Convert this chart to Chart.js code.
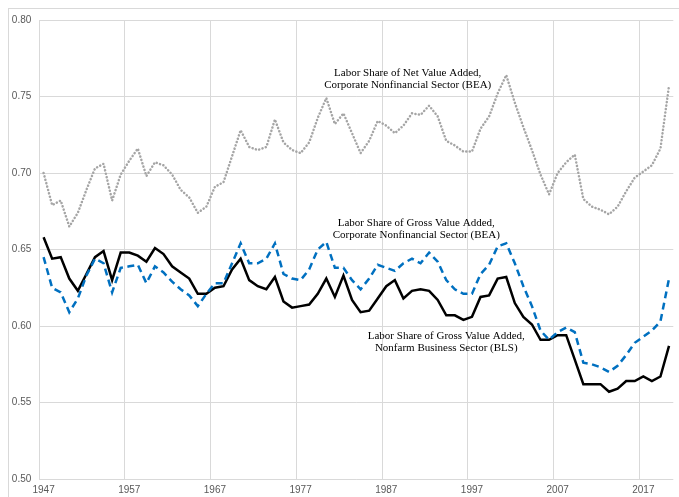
<!DOCTYPE html>
<html>
<head>
<meta charset="utf-8">
<script src="https://cdn.jsdelivr.net/npm/chart.js@4"></script>
<style>
  html, body { margin: 0; padding: 0; background: #fff; }
  #wrap { position: relative; width: 679px; height: 497px; overflow: hidden; }
  #frame { position: absolute; left: 8px; top: 8px; width: 700px; height: 520px;
           border-left: 1px solid #d9d9d9; border-top: 1px solid #d9d9d9; }
  canvas { position: absolute; left: 0; top: 0; }
</style>
</head>
<body>
<div id="wrap">
  <div id="frame"></div>
  <canvas id="chart" width="679" height="497"></canvas>
</div>
<script>
// years 1947-2020, one category each
const years = [
  "1947", "1948", "1949", "1950", "1951", "1952", "1953", "1954", "1955", "1956",
  "1957", "1958", "1959", "1960", "1961", "1962", "1963", "1964", "1965", "1966",
  "1967", "1968", "1969", "1970", "1971", "1972", "1973", "1974", "1975", "1976",
  "1977", "1978", "1979", "1980", "1981", "1982", "1983", "1984", "1985", "1986",
  "1987", "1988", "1989", "1990", "1991", "1992", "1993", "1994", "1995", "1996",
  "1997", "1998", "1999", "2000", "2001", "2002", "2003", "2004", "2005", "2006",
  "2007", "2008", "2009", "2010", "2011", "2012", "2013", "2014", "2015", "2016",
  "2017", "2018", "2019", "2020",
];

const yearTicks = ["1947", "1957", "1967", "1977", "1987", "1997", "2007", "2017"];
const valueTicks = [0.5, 0.55, 0.6, 0.65, 0.7, 0.75, 0.8];

// labor share of net value added, corporate nonfinancial (BEA)
const netCorp = [
  0.700, 0.679, 0.682, 0.665, 0.674, 0.689, 0.703, 0.706, 0.682, 0.699,
  0.708, 0.716, 0.698, 0.707, 0.705, 0.699, 0.689, 0.684, 0.674, 0.678,
  0.691, 0.694, 0.711, 0.728, 0.717, 0.715, 0.717, 0.735, 0.720, 0.715,
  0.713, 0.720, 0.736, 0.749, 0.732, 0.739, 0.726, 0.713, 0.721, 0.734,
  0.731, 0.726, 0.731, 0.739, 0.738, 0.744, 0.737, 0.721, 0.718, 0.714,
  0.714, 0.729, 0.737, 0.752, 0.764, 0.746, 0.730, 0.715, 0.699, 0.686,
  0.700, 0.707, 0.712, 0.683, 0.678, 0.676, 0.673, 0.678, 0.688, 0.697,
  0.701, 0.705, 0.716, 0.757,
];

// labor share of gross value added, corporate nonfinancial (BEA)
const grossCorp = [
  0.645, 0.625, 0.622, 0.609, 0.618, 0.633, 0.644, 0.641, 0.622, 0.638,
  0.639, 0.640, 0.628, 0.639, 0.635, 0.629, 0.624, 0.620, 0.613, 0.621,
  0.628, 0.628, 0.641, 0.654, 0.641, 0.641, 0.644, 0.654, 0.634, 0.631,
  0.630, 0.637, 0.650, 0.655, 0.638, 0.638, 0.630, 0.624, 0.631, 0.640,
  0.638, 0.636, 0.641, 0.644, 0.641, 0.648, 0.642, 0.630, 0.624, 0.621,
  0.621, 0.634, 0.640, 0.652, 0.654, 0.641, 0.626, 0.613, 0.597, 0.591,
  0.596, 0.599, 0.596, 0.576, 0.575, 0.573, 0.570, 0.574, 0.581, 0.589,
  0.593, 0.597, 0.603, 0.631,
];

// labor share of gross value added, nonfarm business (BLS)
const grossNonfarm = [
  0.658, 0.644, 0.645, 0.631, 0.623, 0.634, 0.645, 0.649, 0.630, 0.648,
  0.648, 0.646, 0.642, 0.651, 0.647, 0.639, 0.635, 0.631, 0.621, 0.621,
  0.625, 0.626, 0.637, 0.644, 0.630, 0.626, 0.624, 0.632, 0.616, 0.612,
  0.613, 0.614, 0.621, 0.631, 0.619, 0.633, 0.617, 0.609, 0.610, 0.618,
  0.626, 0.630, 0.618, 0.623, 0.624, 0.623, 0.617, 0.607, 0.607, 0.604,
  0.606, 0.619, 0.620, 0.631, 0.632, 0.615, 0.606, 0.601, 0.591, 0.591,
  0.594, 0.594, 0.578, 0.562, 0.562, 0.562, 0.557, 0.559, 0.564, 0.564,
  0.567, 0.564, 0.567, 0.587,
];

const seriesNotes = [
  ["Labor Share of Net Value Added,", "Corporate Nonfinancial Sector (BEA)"],
  ["Labor Share of Gross Value Added,", "Corporate Nonfinancial Sector (BEA)"],
  ["Labor Share of Gross Value Added,", "Nonfarm Business Sector (BLS)"],
];
// where each note sits: category index and value of its first line
const notePlaces = [
  { x: 42.5, y: 0.765 },
  { x: 43.5, y: 0.667 },
  { x: 47.0, y: 0.5935 },
];

const tickFont = { family: "'Liberation Sans Narrow', 'Arial Narrow', Arial, sans-serif", size: 10 };

const notesPlugin = {
  id: "notes",
  afterDatasetsDraw(chart) {
    const { ctx, scales } = chart;
    ctx.save();
    ctx.font = "11px 'Liberation Serif', 'Times New Roman', serif";
    ctx.fillStyle = "#000";
    ctx.textAlign = "center";
    ctx.textBaseline = "middle";
    seriesNotes.forEach((lines, i) => {
      const px = scales.x.getPixelForValue(notePlaces[i].x);
      const py = scales.y.getPixelForValue(notePlaces[i].y);
      lines.forEach((t, j) => ctx.fillText(t, px, py + j * 12));
    });
    ctx.restore();
  },
};

new Chart(document.getElementById("chart"), {
  type: "line",
  data: {
    labels: years,
    datasets: [
      {
        label: seriesNotes[0].join(" "),
        data: netCorp,
        borderColor: "#a5a5a5",
        borderWidth: 2.5,
        borderDash: [0.1, 3.4],
        borderCapStyle: "round",
        pointRadius: 0,
        tension: 0,
      },
      {
        label: seriesNotes[1].join(" "),
        data: grossCorp,
        borderColor: "#0070c0",
        borderWidth: 2.5,
        borderDash: [7, 4.5],
        pointRadius: 0,
        tension: 0,
      },
      {
        label: seriesNotes[2].join(" "),
        data: grossNonfarm,
        borderColor: "#000000",
        borderWidth: 2.5,
        borderJoinStyle: "miter",
        pointRadius: 0,
        tension: 0,
      },
    ],
  },
  options: {
    responsive: false,
    animation: false,
    layout: { padding: { top: 20, right: 5.7, left: 0, bottom: 0 } },
    plugins: {
      legend: { display: false },
      tooltip: { enabled: false },
    },
    scales: {
      x: {
        type: "category",
        offset: true,
        grid: {
          offset: true,
          color: (c) => (c.index % 10 === 0 && c.index < years.length ? "#d9d9d9" : "rgba(0,0,0,0)"),
          lineWidth: 1,
          tickLength: 0,
        },
        border: { display: false },
        ticks: {
          autoSkip: false,
          maxRotation: 0,
          minRotation: 0,
          padding: 5,
          color: "#595959",
          font: tickFont,
          callback: (v, i) => (yearTicks.includes(years[i]) ? years[i] : ""),
        },
        afterFit: (s) => { s.height = 18; },
      },
      y: {
        min: 0.5,
        max: 0.8,
        afterBuildTicks: (s) => { s.ticks = valueTicks.map((v) => ({ value: v })); },
        grid: { color: "#d9d9d9", lineWidth: 1, tickLength: 0 },
        border: { display: false },
        ticks: {
          padding: 8,
          color: "#595959",
          font: tickFont,
          callback: (v) => Number(v).toFixed(2),
        },
        afterFit: (s) => { s.width = 39.3; },
      },
    },
  },
  plugins: [notesPlugin],
});
</script>
</body>
</html>
